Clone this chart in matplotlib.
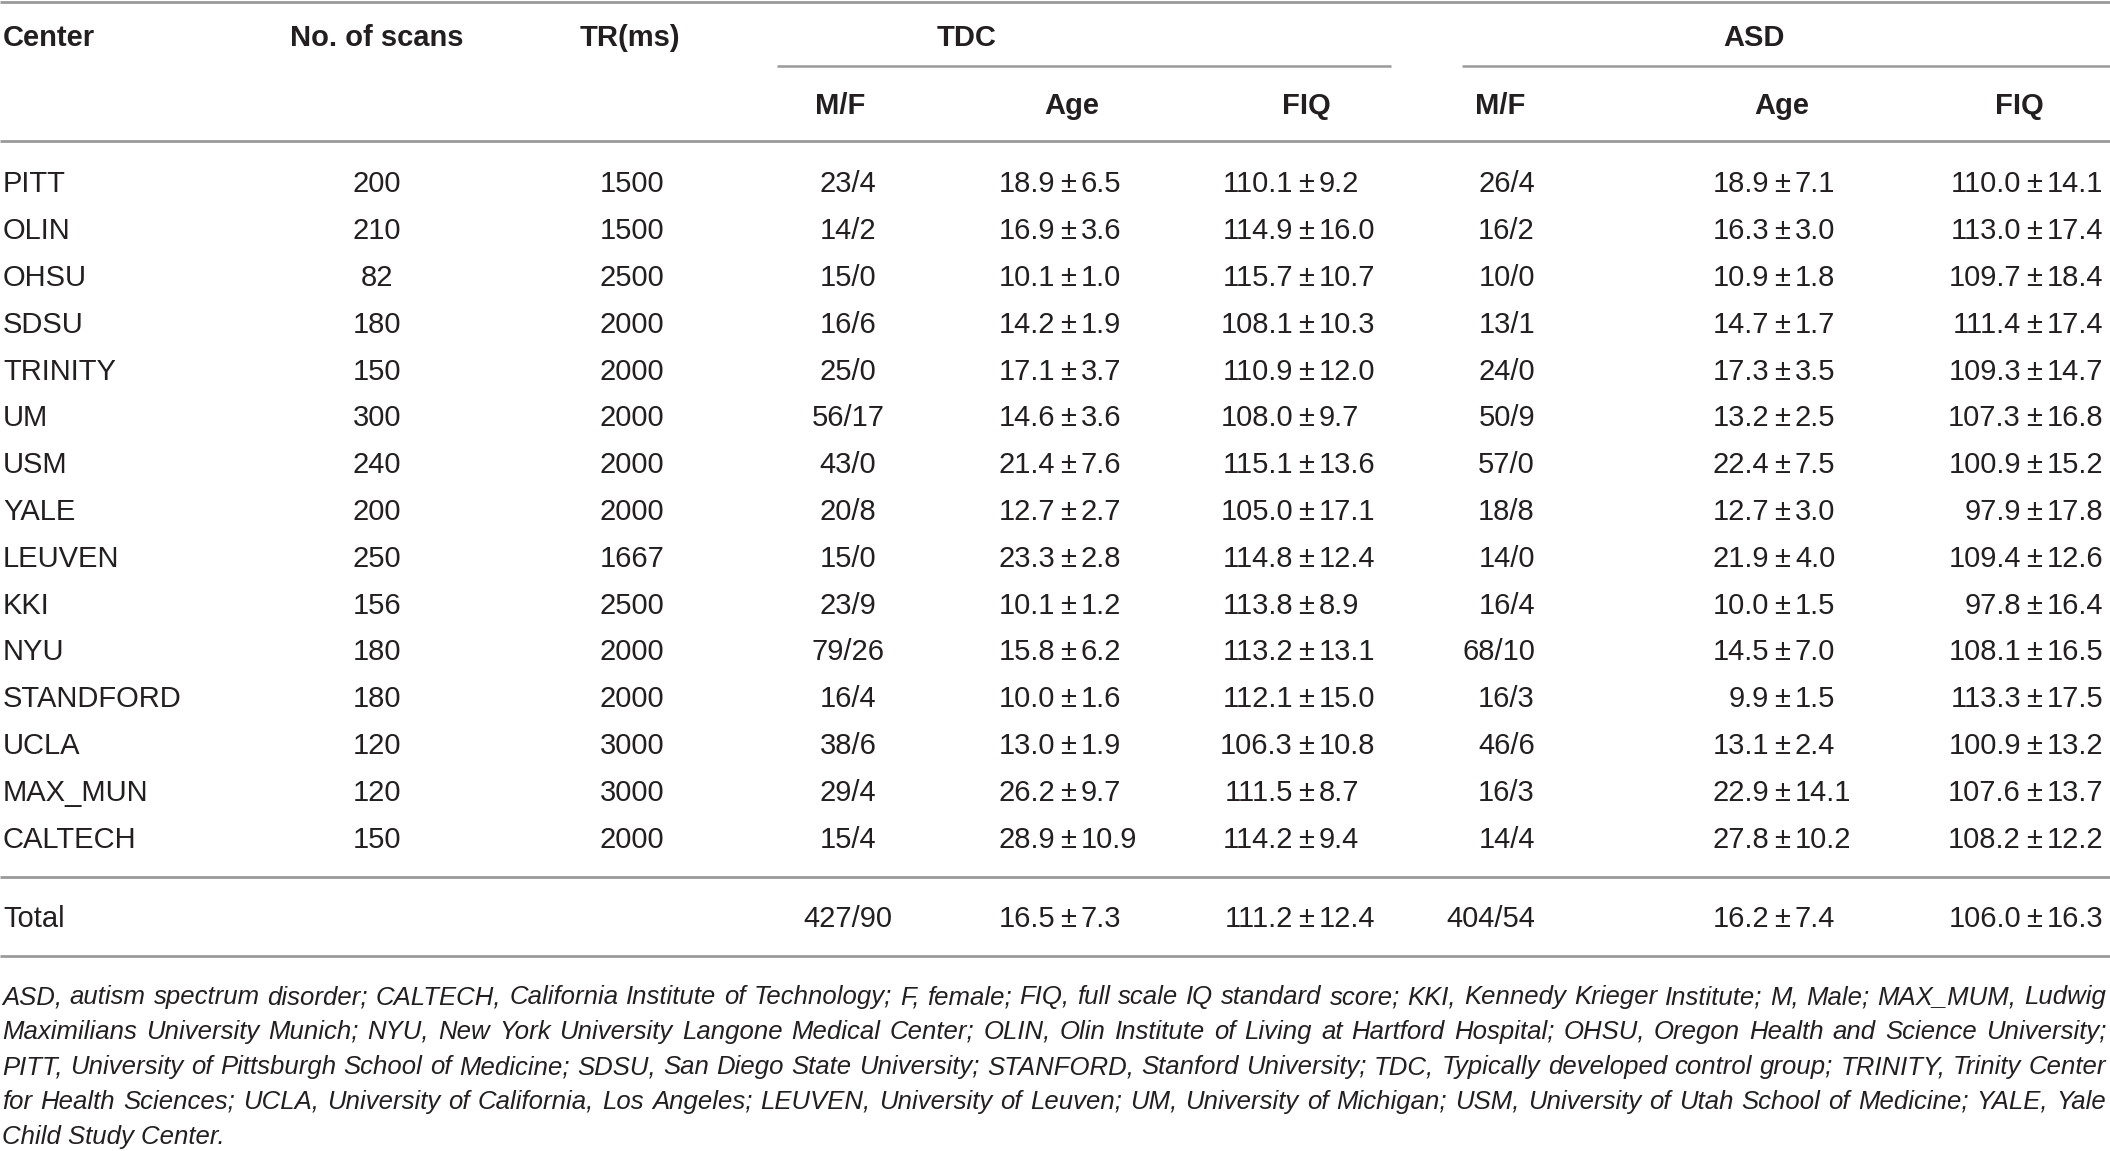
import matplotlib
matplotlib.use("Agg")
import matplotlib.pyplot as plt

# ---------------- data ----------------
centers = ["PITT", "OLIN", "OHSU", "SDSU", "TRINITY", "UM", "USM", "YALE", "LEUVEN",
           "KKI", "NYU", "STANDFORD", "UCLA", "MAX_MUN", "CALTECH"]
n_scans = [200, 210, 82, 180, 150, 300, 240, 200, 250, 156, 180, 180, 120, 120, 150]
tr_ms = [1500, 1500, 2500, 2000, 2000, 2000, 2000, 2000, 1667, 2500, 2000, 2000, 3000, 3000, 2000]

tdc_mf = ["23/4", "14/2", "15/0", "16/6", "25/0", "56/17", "43/0", "20/8", "15/0",
          "23/9", "79/26", "16/4", "38/6", "29/4", "15/4"]
tdc_age_mean = [18.9, 16.9, 10.1, 14.2, 17.1, 14.6, 21.4, 12.7, 23.3, 10.1, 15.8, 10.0, 13.0, 26.2, 28.9]
tdc_age_sd = [6.5, 3.6, 1.0, 1.9, 3.7, 3.6, 7.6, 2.7, 2.8, 1.2, 6.2, 1.6, 1.9, 9.7, 10.9]
tdc_fiq_mean = [110.1, 114.9, 115.7, 108.1, 110.9, 108.0, 115.1, 105.0, 114.8, 113.8, 113.2, 112.1, 106.3, 111.5, 114.2]
tdc_fiq_sd = [9.2, 16.0, 10.7, 10.3, 12.0, 9.7, 13.6, 17.1, 12.4, 8.9, 13.1, 15.0, 10.8, 8.7, 9.4]

asd_mf = ["26/4", "16/2", "10/0", "13/1", "24/0", "50/9", "57/0", "18/8", "14/0",
          "16/4", "68/10", "16/3", "46/6", "16/3", "14/4"]
asd_age_mean = [18.9, 16.3, 10.9, 14.7, 17.3, 13.2, 22.4, 12.7, 21.9, 10.0, 14.5, 9.9, 13.1, 22.9, 27.8]
asd_age_sd = [7.1, 3.0, 1.8, 1.7, 3.5, 2.5, 7.5, 3.0, 4.0, 1.5, 7.0, 1.5, 2.4, 14.1, 10.2]
asd_fiq_mean = [110.0, 113.0, 109.7, 111.4, 109.3, 107.3, 100.9, 97.9, 109.4, 97.8, 108.1, 113.3, 100.9, 107.6, 108.2]
asd_fiq_sd = [14.1, 17.4, 18.4, 17.4, 14.7, 16.8, 15.2, 17.8, 12.6, 16.4, 16.5, 17.5, 13.2, 13.7, 12.2]

total_label = "Total"
total_tdc_mf = "427/90"
total_tdc_age = (16.5, 7.3)
total_tdc_fiq = (111.2, 12.4)
total_asd_mf = "404/54"
total_asd_age = (16.2, 7.4)
total_asd_fiq = (106.0, 16.3)

header_top = ["Center", "No. of scans", "TR(ms)", "TDC", "ASD"]
header_sub = ["M/F", "Age", "FIQ", "M/F", "Age", "FIQ"]

footnote_lines = [
    "ASD, autism spectrum disorder; CALTECH, California Institute of Technology; F, female; FIQ, full scale IQ standard score; KKI, Kennedy Krieger Institute; M, Male; MAX_MUM, Ludwig",
    "Maximilians University Munich; NYU, New York University Langone Medical Center; OLIN, Olin Institute of Living at Hartford Hospital; OHSU, Oregon Health and Science University;",
    "PITT, University of Pittsburgh School of Medicine; SDSU, San Diego State University; STANFORD, Stanford University; TDC, Typically developed control group; TRINITY, Trinity Center",
    "for Health Sciences; UCLA, University of California, Los Angeles; LEUVEN, University of Leuven; UM, University of Michigan; USM, University of Utah School of Medicine; YALE, Yale",
    "Child Study Center.",
]

# ---------------- layout ----------------
W, H = 2110, 1151
TXT = "#231f20"
RULE = "#9a9a9a"
FS = 21
BASE = 9.3  # baseline offset from visual centre

fig = plt.figure(figsize=(W / 100, H / 100), dpi=100)
ax = fig.add_axes([0, 0, 1, 1])
ax.set_xlim(0, W)
ax.set_ylim(H, 0)
ax.axis("off")

body = dict(family=["Liberation Sans", "DejaVu Sans"], fontsize=FS, color=TXT)


def put(x, y, s, ha="center", **kw):
    style = dict(body)
    style.update(kw)
    ax.text(x, y + BASE, s, ha=ha, va="baseline", **style)


def put_pm(xpm, y, mean, sd):
    put(xpm - 13, y, f"{mean:.1f}", ha="right")
    put(xpm, y, "\u00b1", ha="center")
    put(xpm + 13, y, f"{sd:.1f}", ha="left")


def rule(y, x0=0, x1=W, lw=2.0):
    ax.plot([x0, x1], [y, y], color=RULE, lw=lw, solid_capstyle="butt")


# rules
rule(2)
rule(66, 777, 1391, lw=1.8)
rule(66, 1462, W, lw=1.8)
rule(141)
rule(877)
rule(956)

# header
y1, y2 = 37, 105
put(3, y1, header_top[0], ha="left", fontweight="bold")
put(377, y1, header_top[1], fontweight="bold")
put(630, y1, header_top[2], fontweight="bold")
put(967, y1, header_top[3], fontweight="bold")
put(1754, y1, header_top[4], fontweight="bold")
sub_x = [840, 1072, 1306, 1500, 1782, 2019]
for x, s in zip(sub_x, header_sub):
    put(x, y2, s, fontweight="bold")

# body rows
X_SCANS, X_TR, X_TMF = 377, 632, 848
X_TAGE, X_TFIQ = 1068, 1306
X_AMF_R, X_AAGE, X_AFIQ = 1535, 1782, 2034
row0, dy = 183, 46.8
for i, c in enumerate(centers):
    y = row0 + i * dy
    put(3, y, c, ha="left")
    put(X_SCANS, y, str(n_scans[i]))
    put(X_TR, y, str(tr_ms[i]))
    put(X_TMF, y, tdc_mf[i])
    put_pm(X_TAGE, y, tdc_age_mean[i], tdc_age_sd[i])
    put_pm(X_TFIQ, y, tdc_fiq_mean[i], tdc_fiq_sd[i])
    put(X_AMF_R, y, asd_mf[i], ha="right")
    put_pm(X_AAGE, y, asd_age_mean[i], asd_age_sd[i])
    put_pm(X_AFIQ, y, asd_fiq_mean[i], asd_fiq_sd[i])

# total row
yt = 918
put(3, yt, total_label, ha="left")
put(X_TMF, yt, total_tdc_mf)
put_pm(X_TAGE, yt, *total_tdc_age)
put_pm(X_TFIQ, yt, *total_tdc_fiq)
put(X_AMF_R, yt, total_asd_mf, ha="right")
put_pm(X_AAGE, yt, *total_asd_age)
put_pm(X_AFIQ, yt, *total_asd_fiq)

# footnote (justified, size fitted to the available width)
fig.canvas.draw()
renderer = fig.canvas.get_renderer()
x_left, x_right = 2, 2106
foot = dict(family=["Liberation Sans", "DejaVu Sans"], fontsize=21, style="italic", color=TXT)
probe_w = []
for line in footnote_lines[:-1]:
    t = ax.text(0, 0, line, ha="left", va="baseline", **foot)
    probe_w.append(t.get_window_extent(renderer).width)
    t.remove()
scale = min(1.0, (x_right - x_left - 6) / max(probe_w))
foot["fontsize"] = 21 * scale

fy0, fdy = 996, 35
for li, line in enumerate(footnote_lines):
    y = fy0 + li * fdy + 8
    if li == len(footnote_lines) - 1:
        ax.text(x_left, y, line, ha="left", va="baseline", **foot)
        continue
    words = line.split(" ")
    arts = [ax.text(0, y, w, ha="left", va="baseline", **foot) for w in words]
    widths = [a.get_window_extent(renderer).width for a in arts]
    gap = (x_right - x_left - sum(widths)) / (len(words) - 1)
    x = x_left
    for a, w in zip(arts, widths):
        a.set_x(x)
        x += w + gap

fig.savefig("out.png", dpi=100)
